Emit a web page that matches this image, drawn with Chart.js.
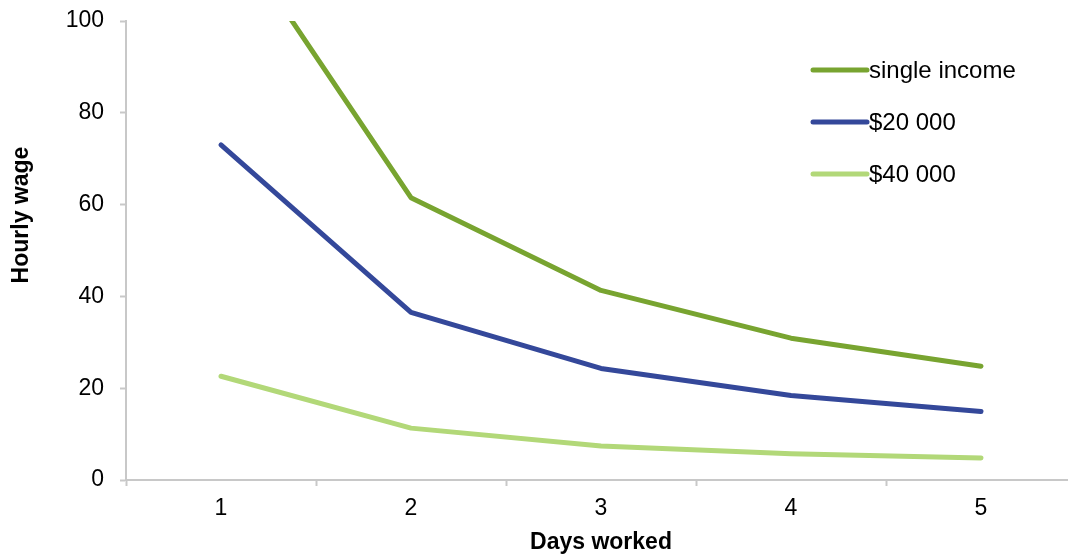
<!DOCTYPE html>
<html>
<head>
<meta charset="utf-8">
<script src="https://cdn.jsdelivr.net/npm/chart.js@4"></script>
<style>
html,body{margin:0;padding:0;background:#fff;overflow:hidden;}
#wrap{position:relative;width:1076px;height:556px;}
</style>
</head>
<body>
<div id="wrap"><canvas id="c"></canvas></div>
<script>
const categories = ['1', '2', '3', '4', '5'];
const singleIncome = [123, 61.5, 41.3, 30.9, 24.8];
const income20000 = [73.0, 36.5, 24.3, 18.4, 14.9];
const income40000 = [22.6, 11.3, 7.4, 5.7, 4.8];
const seriesLabels = ['single income', '$20 000', '$40 000'];
const yTicks = [0, 20, 40, 60, 80, 100];
const xTitle = 'Days worked';
const yTitle = 'Hourly wage';

const FONT = '"Liberation Sans", Arial, sans-serif';
const FS = 23;
const AXIS = '#c8c8c8';

const legendPlugin = {
  id: 'customLegend',
  afterDraw(chart) {
    const ctx = chart.ctx;
    ctx.save();
    chart.data.datasets.forEach((ds, i) => {
      const y = 70 + 52 * i;
      ctx.strokeStyle = ds.borderColor;
      ctx.lineWidth = 5;
      ctx.lineCap = 'round';
      ctx.beginPath();
      ctx.moveTo(813, y);
      ctx.lineTo(867, y);
      ctx.stroke();
      ctx.fillStyle = '#000';
      ctx.font = '24px ' + FONT;
      ctx.textBaseline = 'middle';
      ctx.textAlign = 'left';
      ctx.fillText(ds.label, 869, y + 1);
    });
    // y axis title
    ctx.translate(22, 215);
    ctx.rotate(-Math.PI / 2);
    ctx.font = 'bold ' + FS + 'px ' + FONT;
    ctx.textAlign = 'center';
    ctx.textBaseline = 'middle';
    ctx.fillStyle = '#000';
    ctx.fillText(yTitle, 0, 0);
    ctx.restore();
  }
};

const colors = ['#78a430', '#34489a', '#b2d878'];
const seriesData = [singleIncome, income20000, income40000];

new Chart(document.getElementById('c'), {
  type: 'line',
  data: {
    labels: categories,
    datasets: seriesData.map((d, i) => ({
      label: seriesLabels[i],
      data: d,
      borderColor: colors[i],
      backgroundColor: colors[i],
      borderWidth: 5,
      pointRadius: 0,
      pointHoverRadius: 0,
      tension: 0,
      borderCapStyle: 'round',
      borderJoinStyle: 'round',
      fill: false
    }))
  },
  options: {
    responsive: true,
    maintainAspectRatio: false,
    animation: false,
    events: [],
    layout: { padding: { top: 21, left: 0, right: 0, bottom: 0 } },
    plugins: {
      legend: { display: false },
      tooltip: { enabled: false },
      title: { display: false }
    },
    scales: {
      x: {
        type: 'category',
        offset: true,
        grid: {
          display: true,
          offset: true,
          drawOnChartArea: false,
          drawTicks: true,
          tickLength: 6,
          tickColor: AXIS,
          tickWidth: 2
        },
        border: { display: true, color: AXIS, width: 2 },
        ticks: {
          color: '#000',
          font: { family: FONT, size: FS },
          padding: 9,
          maxRotation: 0
        },
        title: {
          display: true,
          text: xTitle,
          color: '#000',
          font: { family: FONT, size: FS, weight: 'bold' },
          padding: { top: 3, bottom: 0 }
        },
        afterFit(scale) { scale.height = 76; scale.paddingLeft = 0; scale.paddingRight = 0; }
      },
      y: {
        type: 'linear',
        min: 0,
        max: 100,
        afterBuildTicks(scale) { scale.ticks = yTicks.map(v => ({ value: v })); },
        grid: {
          display: true,
          drawOnChartArea: false,
          drawTicks: true,
          tickLength: 6,
          tickColor: AXIS,
          tickWidth: 2
        },
        border: { display: true, color: AXIS, width: 2 },
        ticks: {
          color: '#000',
          font: { family: FONT, size: FS },
          padding: 16
        },
        title: { display: false },
        afterFit(scale) { scale.width = 126; scale.paddingTop = 0; scale.paddingBottom = 0; }
      }
    }
  },
  plugins: [legendPlugin]
});
</script>
</body>
</html>
